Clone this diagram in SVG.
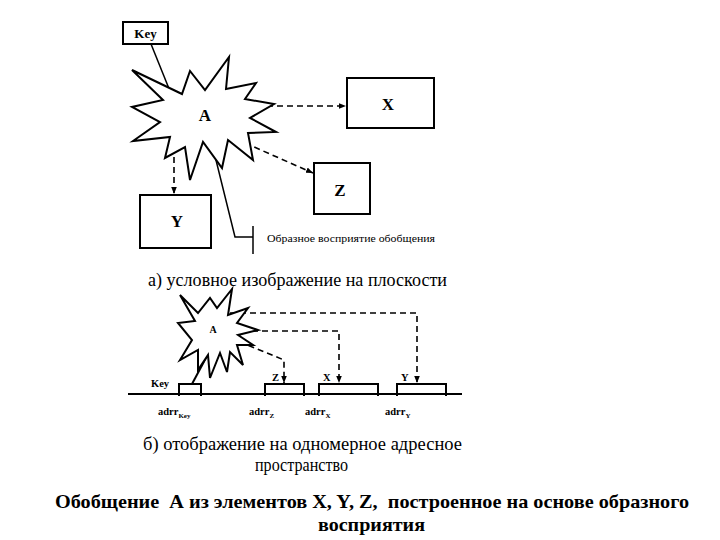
<svg xmlns="http://www.w3.org/2000/svg" width="720" height="540" viewBox="0 0 720 540">
<defs>
<marker id="ah" viewBox="0 0 10 10" refX="10" refY="5" markerWidth="7" markerHeight="7" markerUnits="userSpaceOnUse" orient="auto">
<path d="M0,1 L10,5 L0,9 Z" fill="#000"/>
</marker>
<style>
.box{fill:#fff;stroke:#000;stroke-width:2}
.star{fill:#fff;stroke:#000;stroke-width:2;stroke-linejoin:miter}
.dash{fill:none;stroke:#000;stroke-width:1.6;stroke-dasharray:6 4}
.solid{fill:none;stroke:#000;stroke-width:1.5}
.bar{fill:none;stroke:#000;stroke-width:2}
.lb{font-family:"Liberation Serif",serif;font-weight:bold;fill:#000}
.rg{font-family:"Liberation Serif",serif;fill:#000}
</style>
</defs>
<rect width="720" height="540" fill="#fff"/>

<g id="connectors">
<line class="solid" x1="151" y1="44" x2="176" y2="106" marker-end="url(#ah)"/>
<line class="dash" x1="257" y1="106" x2="346" y2="106" marker-end="url(#ah)"/>
<line class="dash" x1="236" y1="139" x2="313" y2="173" marker-end="url(#ah)"/>
<line class="dash" x1="174" y1="137" x2="174" y2="194" marker-end="url(#ah)"/>
<polyline class="solid" points="214,152 235,237 253,237"/>
<line class="solid" x1="253" y1="226" x2="253" y2="254"/>
<polyline class="dash" points="230,313 417,313 417,383" marker-end="url(#ah)"/>
<polyline class="dash" points="232,331 339,331 339,383" marker-end="url(#ah)"/>
<polyline class="dash" points="230,338 284,360 284,383" marker-end="url(#ah)"/>
<line class="solid" x1="192" y1="384" x2="207" y2="356" style="stroke-width:2"/>
</g>

<g id="key">
<rect class="box" x="123" y="22" width="45" height="22"/>
<text class="lb" x="145.5" y="38" font-size="13" text-anchor="middle">Key</text>
</g>

<g id="nodeA">
<polygon class="star" points="163,100 132,70 182,94 190,71 205,90 229,57 226,89 256,83 245,99 274,104 250,118 276,132 248,133 253,160 228,140 222,168 203,142 190,180 185,147 165,158 170,137 133,141 160,122 132,107"/>
<text class="lb" x="205" y="121" font-size="17" text-anchor="middle">A</text>
</g>

<g id="nodeX">
<rect class="box" x="347" y="78" width="87" height="50"/>
<text class="lb" x="388" y="110" font-size="17" text-anchor="middle">X</text>
</g>

<g id="nodeZ">
<rect class="box" x="314" y="163" width="56" height="51"/>
<text class="lb" x="340" y="196" font-size="17" text-anchor="middle">Z</text>
</g>

<g id="nodeY">
<rect class="box" x="140" y="195" width="71" height="53"/>
<text class="lb" x="177" y="227" font-size="17" text-anchor="middle">Y</text>
</g>

<g id="pointer-label">
<text class="rg" x="267" y="242" font-size="11" textLength="168" lengthAdjust="spacingAndGlyphs">Образное восприятие обобщения</text>
</g>

<g id="caption-a">
<text class="rg" x="148" y="286" font-size="18" textLength="299" lengthAdjust="spacingAndGlyphs">а) условное изображение на плоскости</text>
</g>

<g id="nodeA2">
<polygon class="star" points="180,295 198,313 210,298 217,308 232,289 228,315 248,308 237,323 258,330 238,335 253,345 237,345 243,365 230,352 227,372 220,353 210,378 208,355 198,370 198,350 180,360 192,340 178,323 195,321"/>
<text class="lb" x="213" y="333" font-size="10" text-anchor="middle">A</text>
</g>

<g id="address-line">
<line class="bar" x1="128" y1="394" x2="462" y2="394"/>
</g>

<g id="segKey">
<polyline class="bar" points="179,396 179,384 201,384 201,396"/>
<text class="lb" x="151" y="387" font-size="10.5">Key</text>
<text class="lb" x="158" y="415" font-size="10.5">adrr<tspan font-size="7" dy="3">Key</tspan></text>
</g>

<g id="segZ">
<polyline class="bar" points="265,396 265,384 304,384 304,396"/>
<text class="lb" x="272" y="381" font-size="10.5">Z</text>
<text class="lb" x="249" y="415" font-size="10.5">adrr<tspan font-size="7" dy="3">Z</tspan></text>
</g>

<g id="segX">
<polyline class="bar" points="319,396 319,384 378,384 378,396"/>
<text class="lb" x="323" y="381" font-size="10.5">X</text>
<text class="lb" x="305" y="415" font-size="10.5">adrr<tspan font-size="7" dy="3">X</tspan></text>
</g>

<g id="segY">
<polyline class="bar" points="397,396 397,384 446,384 446,396"/>
<text class="lb" x="401" y="381" font-size="10.5">Y</text>
<text class="lb" x="385" y="415" font-size="10.5">adrr<tspan font-size="7" dy="3">Y</tspan></text>
</g>

<g id="caption-b">
<text class="rg" x="143" y="450" font-size="18" textLength="319" lengthAdjust="spacingAndGlyphs">б) отображение на одномерное адресное</text>
<text class="rg" x="255" y="471" font-size="18" textLength="93" lengthAdjust="spacingAndGlyphs">пространство</text>
</g>

<g id="title">
<text class="lb" x="55" y="508" font-size="19" textLength="634" lengthAdjust="spacingAndGlyphs" xml:space="preserve">Обобщение  А из элементов X, Y, Z,  построенное на основе образного</text>
<text class="lb" x="318" y="531" font-size="19" textLength="107" lengthAdjust="spacingAndGlyphs">восприятия</text>
</g>
</svg>
